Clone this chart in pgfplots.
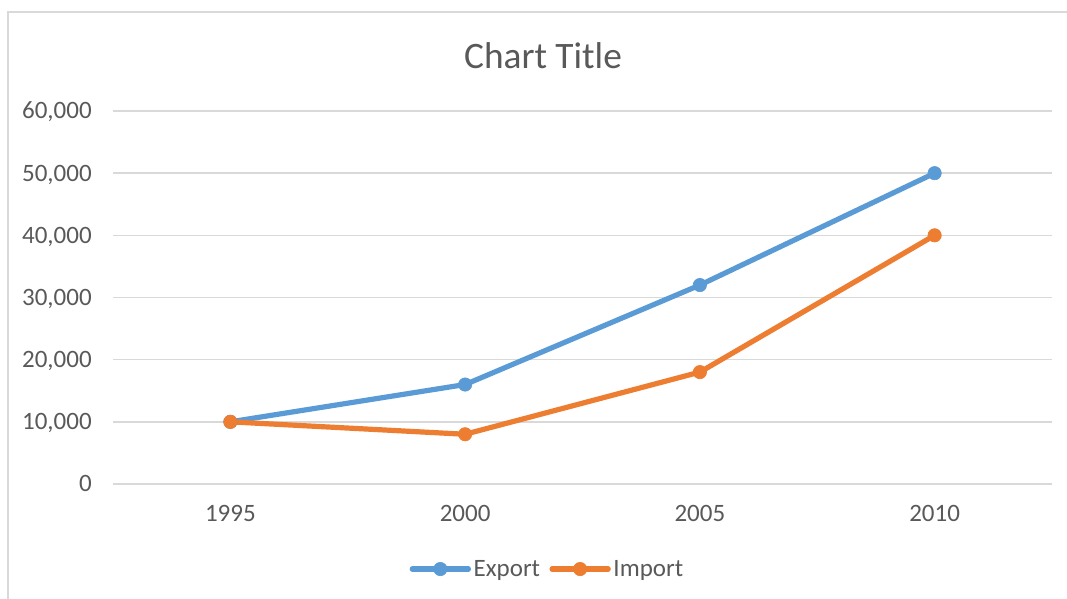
\documentclass[border=0pt]{standalone}
\usepackage{pgfplots}
\pgfplotsset{compat=1.18}
\usepackage{fontspec}
\setmainfont{Carlito}
\definecolor{blue1}{HTML}{5B9BD5}
\definecolor{orange1}{HTML}{ED7D31}
\definecolor{txt}{HTML}{595959}
\definecolor{gridc}{HTML}{D9D9D9}
\begin{document}
\begin{tikzpicture}[x=0.75pt,y=0.75pt]
\useasboundingbox (0,0) rectangle (1067,599);
\draw[gridc, line width=1.5pt] (8,0) -- (8,587) -- (1067,587);
\node[txt, anchor=base, inner sep=0pt, font=\fontsize{28}{32}\selectfont] at (543,530) {Chart Title};
\begin{axis}[
  at={(84.75pt,86.25pt)}, anchor=south west,
  scale only axis, width=704.25pt, height=279.75pt,
  xmin=-0.5, xmax=3.5, ymin=0, ymax=60000,
  xtick={0,1,2,3}, xticklabels={1995,2000,2005,2010},
  ytick={0,10000,20000,30000,40000,50000,60000},
  scaled y ticks=false,
  /pgf/number format/.cd, 1000 sep={,}, assume math mode=true, /pgfplots/.cd,
  axis line style={draw=none},
  major tick length=0pt,
  ymajorgrids, grid style={gridc, line width=1.1pt},
  tick label style={txt, font=\fontsize{18.75}{22}\selectfont},
  yticklabel style={anchor=base east, inner sep=0pt, xshift=-15.75pt, yshift=-6pt},
  xticklabel style={anchor=base, inner sep=0pt, yshift=-28.5pt},
  legend style={at={(0.463,-0.228)}, anchor=center, draw=none, fill=none,
    legend columns=2, font=\fontsize{18.75}{22}\selectfont, text=txt,
    /tikz/every even column/.append style={column sep=5pt}},
  legend image code/.code={\draw[mark repeat=2,mark phase=2,#1] plot coordinates {(0cm,0cm) (0.74cm,0cm) (1.48cm,0cm)};},
  clip=false,
]
\addplot[blue1, line width=3.9pt, line join=round, line cap=round, mark=*, mark size=5pt, mark options={solid, line width=0.5pt}] coordinates {(0,10000) (1,16000) (2,32000) (3,50000)};
\addlegendentry{Export}
\addplot[orange1, line width=3.9pt, line join=round, line cap=round, mark=*, mark size=5pt, mark options={solid, line width=0.5pt}] coordinates {(0,10000) (1,8000) (2,18000) (3,40000)};
\addlegendentry{Import}
\end{axis}
\end{tikzpicture}
\end{document}
